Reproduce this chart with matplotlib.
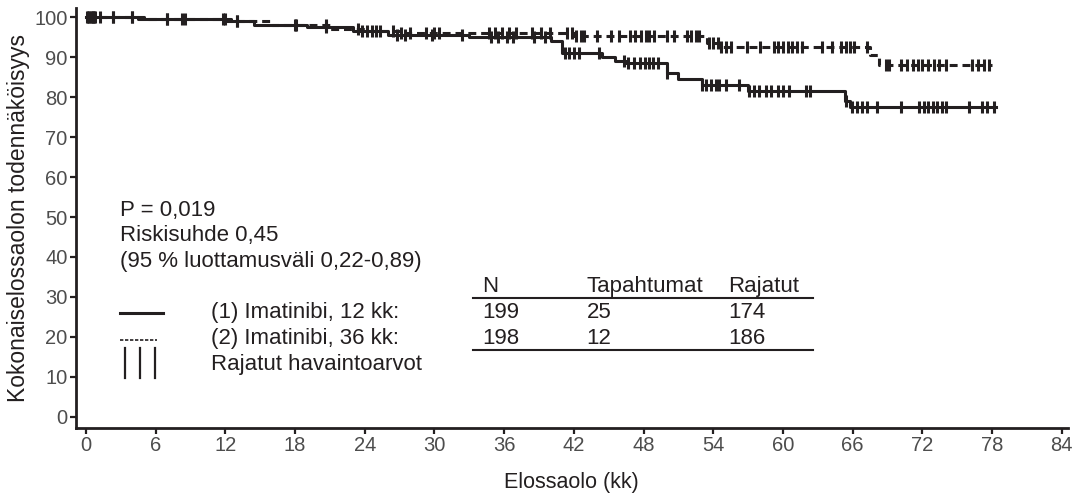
import numpy as np
import matplotlib.pyplot as plt

plt.rcParams['font.family'] = ['Liberation Sans', 'DejaVu Sans']

# Kaplan-Meier steps (time in months, survival %)
arm1_t = [0, 4.5, 12.5, 14.5, 19, 23, 26, 33, 40, 41, 44.4, 45.5, 46.5, 50, 51, 53, 57, 65.3, 65.8, 78.3]
arm1_s = [100, 99.5, 99, 98, 97.5, 96.5, 95.5, 95, 94, 91, 90, 89, 88.5, 86, 84.5, 83, 81.5, 79, 77.5, 77.5]
arm2_t = [0, 5, 12, 16, 21, 24, 27, 42, 53.5, 54.5, 67.5, 68.3, 78]
arm2_s = [100, 99.5, 99, 98, 97, 96.5, 96, 95.2, 93.5, 92.5, 90.5, 88, 88]

# censored observations
arm1_cens = [0.1, 0.3, 0.5, 0.7, 1.2, 2.3, 4.0, 7.0, 8.5, 12.0, 13.0, 18.1, 20.7,
             23.8, 24.6, 25.3, 26.8, 27.5, 29.8, 32.4, 34.9, 35.5, 36.2, 36.8, 38.6, 39.5,
             41.2, 41.6, 42.0, 42.4, 44.2, 46.3, 46.7, 47.2, 47.7, 48.1, 48.5, 48.8, 49.2, 50.0,
             53.0, 53.4, 53.8, 54.2, 54.5, 55.1, 56.2, 57.1, 57.5, 57.9, 58.5, 59.0, 59.6, 60.0, 60.5,
             62.0, 62.3, 65.4, 65.9, 66.4, 66.8, 67.2, 68.1, 70.2, 71.7, 72.1, 72.5, 72.9, 73.3, 73.7, 74.0,
             76.0, 77.1, 77.6, 78.2]
arm2_cens = [0.2, 0.4, 0.6, 0.8, 2.3, 4.0, 7.0, 8.3, 11.8, 13.0, 18.0, 20.7,
             23.4, 24.2, 25.0, 26.4, 27.1, 27.9, 29.3, 30.0, 30.4, 34.7, 35.2, 35.8, 36.4, 37.0, 38.4, 39.2, 39.9,
             41.4, 41.8, 42.2, 42.6, 42.9, 44.0, 45.2, 45.9, 46.8, 47.3, 47.8, 48.2, 48.5, 48.9,
             50.0, 50.6, 51.7, 52.1, 52.5, 52.8, 53.6, 54.0, 54.4, 54.7, 55.1, 55.5, 56.9, 58.0,
             59.2, 59.6, 60.0, 60.4, 60.8, 61.2, 61.6, 63.4, 64.2, 65.0, 65.4, 65.8, 66.1, 67.2,
             68.9, 69.1, 70.2, 70.7, 71.2, 71.6, 72.0, 72.5, 73.0, 73.4, 74.0, 76.3, 76.8, 77.3, 77.7]

x_ticks = np.arange(0, 85, 6)
y_ticks = np.arange(0, 101, 10)

stat_lines = ['P = 0,019', 'Riskisuhde 0,45', '(95 % luottamusväli 0,22-0,89)']
legend_labels = ['(1) Imatinibi, 12 kk:', '(2) Imatinibi, 36 kk:', 'Rajatut havaintoarvot']
table_header = ['N', 'Tapahtumat', 'Rajatut']
table_rows = [['199', '25', '174'], ['198', '12', '186']]


def surv_at(times, steps_t, steps_s):
    idx = np.searchsorted(steps_t, times, side='right') - 1
    return np.array(steps_s)[idx]


fig = plt.figure(figsize=(10.72, 4.93), dpi=100)
ax = fig.add_axes([0.0709, 0.132, 0.925, 0.852])

ink = '#231f20'
ax.step(arm1_t, arm1_s, where='post', color=ink, lw=2.2)
ax.step(arm2_t, arm2_s, where='post', color=ink, lw=2.2, ls=(0, (2.6, 1.6)))
ax.plot(arm1_cens, surv_at(arm1_cens, arm1_t, arm1_s), ls='none', marker='|',
        ms=8.5, mew=2.2, color=ink)
ax.plot(arm2_cens, surv_at(arm2_cens, arm2_t, arm2_s), ls='none', marker='|',
        ms=8.5, mew=2.2, color=ink)

ax.set_xlim(-0.86, 84.5)
ax.set_ylim(-2.75, 102.3)
ax.set_xticks(x_ticks)
ax.set_yticks(y_ticks)
ax.spines[['top', 'right']].set_visible(False)
for s in ['left', 'bottom']:
    ax.spines[s].set_linewidth(2)
    ax.spines[s].set_color(ink)
ax.tick_params(axis='both', direction='out', length=4, width=1.6, color=ink,
               labelsize=14.5, labelcolor='#4d4d4d', pad=2)
ax.set_xlabel('Elossaolo (kk)', fontsize=15.5, color=ink, labelpad=12)
ax.set_ylabel('Kokonaiselossaolon todennäköisyys', fontsize=16.5, color=ink, labelpad=3)

txt = dict(fontsize=16, color=ink, va='center', ha='left')
for i, line in enumerate(stat_lines):
    ax.text(2.9, 51.75 - i * 6.5, line, **txt)

# legend drawn by hand
ax.plot([2.9, 6.6], [26, 26], color=ink, lw=2.2)
ax.plot([2.9, 6.1], [19.3, 19.3], color=ink, lw=1.2, ls=(0, (2, 1)))
for bx in [3.35, 4.64, 5.93]:
    ax.plot([bx, bx], [9.75, 17.25], color=ink, lw=1.6)
for i, lab in enumerate(legend_labels):
    ax.text(10.75, 26 - i * 6.5, lab, **txt)

# summary table
col_x = [34.1, 43.1, 55.3]
for cx, h in zip(col_x, table_header):
    ax.text(cx, 32.5, h, **txt)
for r, row in enumerate(table_rows):
    for cx, v in zip(col_x, row):
        ax.text(cx, 26 - r * 6.5, v, **txt)
ax.plot([33.3, 62.6], [29.75, 29.75], color=ink, lw=1.5)
ax.plot([33.3, 62.6], [16.75, 16.75], color=ink, lw=1.5)

fig.savefig('out.png', dpi=100)
